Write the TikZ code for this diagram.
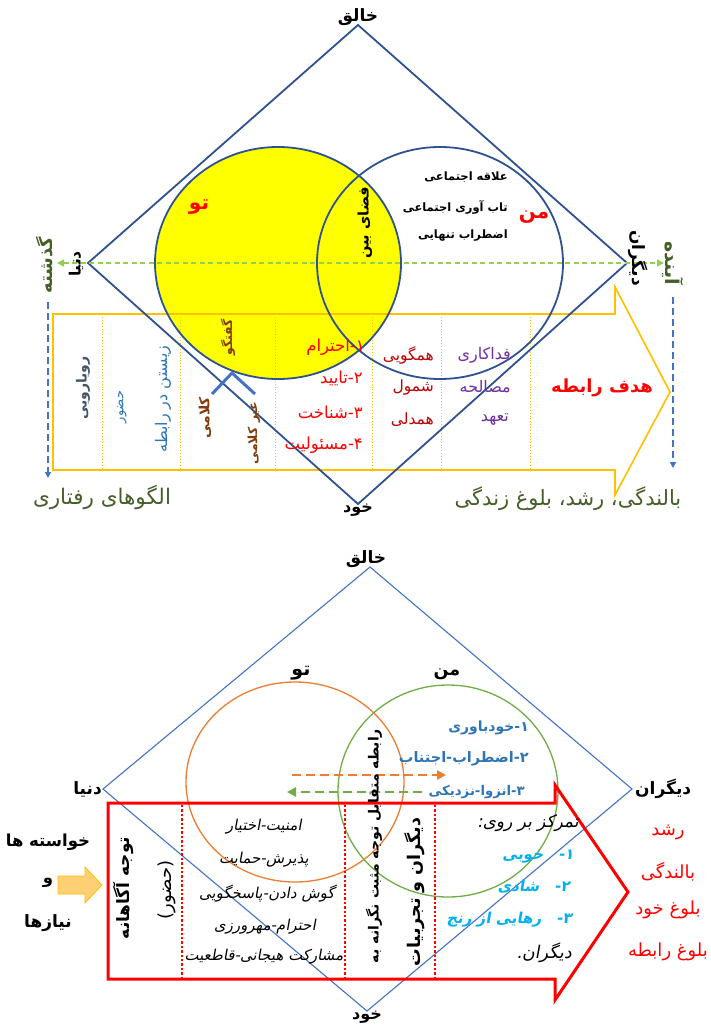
\documentclass[tikz,border=0pt]{standalone}
\usepackage{fontspec}
\usetikzlibrary{arrows.meta}
\newfontfamily\fa[Script=Arabic]{DejaVu Sans}
\newfontfamily\faIt[Script=Arabic,FakeSlant=0.18]{DejaVu Sans}
\TeXXeTstate=1
\newcommand{\rl}[1]{\beginR#1\endR}
\newcommand{\fsz}[1]{\fontsize{#1}{#1}\selectfont}
\definecolor{topblue}{RGB}{47,82,143}
\definecolor{gold}{RGB}{255,192,0}
\definecolor{yel}{RGB}{255,255,0}
\definecolor{lgreen}{RGB}{146,208,80}
\definecolor{dblue}{RGB}{68,114,196}
\definecolor{olive}{RGB}{70,95,40}
\definecolor{slate}{RGB}{68,84,106}
\definecolor{mblue}{RGB}{46,117,182}
\definecolor{brownc}{RGB}{131,60,11}
\definecolor{dred}{RGB}{192,0,0}
\definecolor{purp}{RGB}{112,48,160}
\definecolor{orng}{RGB}{237,125,49}
\definecolor{grn}{RGB}{112,173,71}
\definecolor{lblue}{RGB}{0,176,240}
\definecolor{peach}{RGB}{255,208,115}
\begin{document}
\begin{tikzpicture}[x=1pt,y=-1pt,
  every node/.style={inner sep=1pt},
  topline/.style={draw=topblue,line width=1.8pt},
  botline/.style={draw=dblue,line width=1.1pt},
  golddiv/.style={draw=gold,dotted,line width=0.9pt},
  reddiv/.style={draw=red,dotted,line width=2.4pt},
  vdash/.style={draw=dblue,line width=2pt,dash pattern=on 7pt off 4pt,-{Triangle[length=6pt,width=6pt]}},
  bdash/.style={line width=2.6pt,dash pattern=on 9pt off 5pt,-{Triangle[length=9pt,width=9pt]}},
  corner/.style={font=\fa\bfseries\fsz{17}},
]
\useasboundingbox (0,0) rectangle (711,1025);
\fill[white] (0,0) rectangle (711,1025);

%================ TOP HALF =================
\coordinate (T1) at (358,25);
\coordinate (L1) at (88,263);
\coordinate (R1) at (627,263);
\coordinate (B1) at (358,504);
\coordinate (Ctu) at (278,263);
\coordinate (Cman) at (440,263);

\fill[yel] (Ctu) ellipse [x radius=123, y radius=116];

% big gold arrow
\draw[gold,line width=1.6pt] (53,314) -- (615,314) -- (615,287) -- (670,392) -- (615,495) -- (615,470) -- (53,470) -- cycle;
\foreach \xx in {102,180,275,372,441,530} \draw[golddiv] (\xx,314) -- (\xx,470);

\draw[topline] (Ctu) ellipse [x radius=123, y radius=116];
\draw[topline] (Cman) ellipse [x radius=123, y radius=116];
\draw[topline] (T1) -- (R1) -- (B1) -- (L1) -- cycle;

% caret under goftogu
\coordinate (cA) at (212,394);
\coordinate (cB) at (232,373);
\coordinate (cC) at (255,394);
\draw[draw=dblue,line width=3pt] (cA) -- (cB) -- (cC);

% green dashed horizontal
\coordinate (gL) at (57,263);
\coordinate (gR) at (664,263);
\draw[draw=lgreen,line width=1.6pt,dash pattern=on 5pt off 3.5pt,{Triangle[length=7pt,width=7pt]}-{Triangle[length=7pt,width=7pt]}] (gL) -- (gR);

% vertical blue dashed arrows
\coordinate (vl1) at (48,302); \coordinate (vl2) at (48,478);
\coordinate (vr1) at (673,297); \coordinate (vr2) at (673,468);
\draw[vdash] (vl1) -- (vl2);
\draw[vdash] (vr1) -- (vr2);

% corner labels
\node[corner] (khaliq1) at (358,17) {\rl{خالق}};
\node[corner,anchor=north,font=\fa\bfseries\fsz{16}] (khod1) at ([yshift=1pt]B1) {\rl{خود}};
\node[corner,rotate=90,font=\fa\bfseries\fsz{15.5}] (donya1) at (76,264) {\rl{دنیا}};
\node[corner,rotate=-90] (digaran1) at (638,258) {\rl{دیگران}};
\node[font=\fa\bfseries\fsz{18},text=olive,rotate=90] (gozashte) at (45,265) {\rl{گذشته}};
\node[font=\fa\bfseries\fsz{19},text=olive,rotate=-90] (ayande) at (673,263) {\rl{آینده}};

\node[font=\fa\bfseries\fsz{20},text=red] (tu1) at (199,207) {\rl{تو}};
\node[font=\fa\bfseries\fsz{20},text=red] (man1) at (534,217) {\rl{من}};
\node[font=\fa\bfseries\fsz{14.5},rotate=90] (faza) at (365,223) {\rl{فضای بین}};
\node[font=\fa\bfseries\fsz{11.5},anchor=east] (m1) at (509,177) {\rl{علاقه اجتماعی}};
\node[font=\fa\bfseries\fsz{11.5},anchor=east] (m2) at (509,207) {\rl{تاب آوری اجتماعی}};
\node[font=\fa\bfseries\fsz{11.5},anchor=east] (m3) at (509,236) {\rl{اضطراب تنهایی}};

% columns
\node[font=\fa\bfseries\fsz{14},text=slate,rotate=90] (ruyaru) at (83,388) {\rl{رویارویی}};
\node[font=\fa\fsz{13},text=mblue,rotate=90] (hozur1) at (122,407) {\rl{حضور}};
\node[font=\fa\fsz{16},text=mblue,rotate=90] (zistan) at (163,399) {\rl{زیستن در رابطه}};
\node[font=\fa\bfseries\fsz{12.5},text=brownc,rotate=90] (goftogu) at (228,337) {\rl{گفتگو}};
\node[font=\fa\bfseries\fsz{14},text=brownc,rotate=90] (kalami) at (205,418) {\rl{کلامی}};
\node[font=\fa\bfseries\fsz{12.5},text=brownc,rotate=90] (gheyr) at (254,433) {\rl{غیر کلامی}};

\node[font=\fa\fsz{16.5},text=red,anchor=east] (r1) at (366,347) {\rl{۱-احترام}};
\node[font=\fa\fsz{16.5},text=red,anchor=east] (r2) at (364,378) {\rl{۲-تایید}};
\node[font=\fa\fsz{16.5},text=red,anchor=east] (r3) at (364,412) {\rl{۳-شناخت}};
\node[font=\fa\fsz{16.5},text=red,anchor=east] (r4) at (364,445) {\rl{۴-مسئولیت}};

\node[font=\fa\fsz{15.5},text=dred,anchor=east] (h1) at (435,355) {\rl{همگویی}};
\node[font=\fa\fsz{15.5},text=dred,anchor=east] (h2) at (435,387) {\rl{شمول}};
\node[font=\fa\fsz{15.5},text=dred,anchor=east] (h3) at (435,420) {\rl{همدلی}};
\node[font=\fa\fsz{16},text=purp,anchor=east] (f1) at (512,355) {\rl{فداکاری}};
\node[font=\fa\fsz{16},text=purp,anchor=east] (f2) at (512,387) {\rl{مصالحه}};
\node[font=\fa\fsz{16},text=purp,anchor=east] (f3) at (510,420) {\rl{تعهد}};

\node[font=\fa\bfseries\fsz{18},text=red] (hadaf) at (602,388) {\rl{هدف رابطه}};

\node[font=\fa\fsz{21.5},text=olive] (olgu) at (102,497) {\rl{الگوهای رفتاری}};
\node[font=\fa\fsz{21},text=olive] (balandegi1) at (568,499) {\rl{بالندگی، رشد، بلوغ زندگی}};

%================ BOTTOM HALF =================
\coordinate (T2) at (370,567);
\coordinate (L2) at (103,789);
\coordinate (R2) at (632,789);
\coordinate (B2) at (367,1011);
\coordinate (Cor) at (295,782);
\coordinate (Cgr) at (448,791);

\draw[botline] (T2) -- (R2) -- (B2) -- (L2) -- cycle;
\draw[draw=orng,line width=1.3pt] (Cor) ellipse [x radius=109, y radius=100];
\draw[draw=grn,line width=1.3pt] (Cgr) ellipse [x radius=110, y radius=106];

% red arrow
\draw[red,line width=3pt,line join=miter] (108,803) -- (555,803) -- (555,785) -- (628,892) -- (555,1000) -- (555,979) -- (108,979) -- cycle;
\foreach \xx in {182,345,435} \draw[reddiv] (\xx,805) -- (\xx,977);

% dashed arrows
\coordinate (oa1) at (292,775); \coordinate (oa2) at (446,775);
\coordinate (ga1) at (422,792); \coordinate (ga2) at (287,792);
\draw[bdash,draw=orng,fill=orng] (oa1) -- (oa2);
\draw[bdash,draw=grn,fill=grn] (ga1) -- (ga2);

% corner labels
\node[corner] (khaliq2) at (366,559) {\rl{خالق}};
\node[corner,anchor=north,font=\fa\bfseries\fsz{16}] (khod2) at ([yshift=1pt]B2) {\rl{خود}};
\node[corner,anchor=east] (donya2) at (L2) {\rl{دنیا}};
\node[corner,anchor=west] (digaran2) at ([xshift=2pt]R2) {\rl{دیگران}};

\node[font=\fa\bfseries\fsz{19},anchor=base] (tu2) at (301,675) {\rl{تو}};
\node[font=\fa\bfseries\fsz{17.5},anchor=base] (man2) at (447,675) {\rl{من}};

\node[font=\fa\bfseries\fsz{14},text=mblue,anchor=east] (b1) at (530,728) {\rl{۱-خودباوری}};
\node[font=\fa\bfseries\fsz{14.5},text=mblue,anchor=east] (b2) at (530,759) {\rl{۲-اضطراب-اجتناب}};
\node[font=\fa\bfseries\fsz{13.3},text=mblue,anchor=east] (b3) at (526,792) {\rl{۳-انزوا-نزدیکی}};

% left side
\node[font=\fa\bfseries\fsz{16.5}] (khaste) at (48,842) {\rl{خواسته ها}};
\node[font=\fa\bfseries\fsz{16.5}] (va) at (48,883) {\rl{و}};
\node[font=\fa\bfseries\fsz{17}] (niaz) at (48,923) {\rl{نیازها}};
\draw[draw=gold,fill=peach,line width=0.8pt] (58,876) -- (85,876) -- (85,867) -- (102,885) -- (85,903) -- (85,894) -- (58,894) -- cycle;

% columns
\node[font=\fa\bfseries\fsz{17},rotate=90] (tavajoh) at (123,888) {\rl{توجه آگاهانه}};
\node[font=\fa\fsz{18},rotate=90] (hozur2) at (167,890) {\rl{(حضور)}};

\node[font=\faIt\fsz{15},anchor=base] (i1) at (264,830) {\rl{امنیت-اختیار}};
\node[font=\faIt\fsz{15},anchor=base] (i2) at (264,863) {\rl{پذیرش-حمایت}};
\node[font=\faIt\fsz{15},anchor=base] (i3) at (267,898) {\rl{گوش دادن-پاسخگویی}};
\node[font=\faIt\fsz{15},anchor=base] (i4) at (265,930) {\rl{احترام-مهرورزی}};
\node[font=\faIt\fsz{15},anchor=base] (i5) at (264,960) {\rl{مشارکت هیجانی-قاطعیت}};

\node[font=\fa\bfseries\fsz{14},rotate=90] (rabete) at (374,846) {\rl{رابطه متقابل توجه مثبت نگرانه به}};
\node[font=\fa\bfseries\fsz{17.5},rotate=90] (tajrobiat) at (415,892) {\rl{دیگران و تجربیات}};

\node[font=\faIt\fsz{17},anchor=east] (tamarkoz) at (580,823) {\rl{تمرکز بر روی:}};
\node[font=\faIt\bfseries\fsz{15},text=lblue,anchor=east] (l1) at (575,857) {\rl{۱-\quad خوبی}};
\node[font=\faIt\bfseries\fsz{15},text=lblue,anchor=east] (l2) at (571,887) {\rl{۲-\quad شادی}};
\node[font=\faIt\bfseries\fsz{15},text=lblue,anchor=east] (l3) at (573,920) {\rl{۳-\quad رهایی از رنج}};
\node[font=\faIt\fsz{17.5},anchor=east] (digaran3) at (573,953) {\rl{دیگران.}};

\node[font=\fa\fsz{18},text=red] (roshd) at (668,832) {\rl{رشد}};
\node[font=\fa\fsz{18},text=red] (balandegi2) at (668,872) {\rl{بالندگی}};
\node[font=\fa\fsz{18},text=red] (bolugh1) at (668,910) {\rl{بلوغ خود}};
\node[font=\fa\fsz{18},text=red] (bolugh2) at (668,952) {\rl{بلوغ رابطه}};
\end{tikzpicture}
\end{document}
